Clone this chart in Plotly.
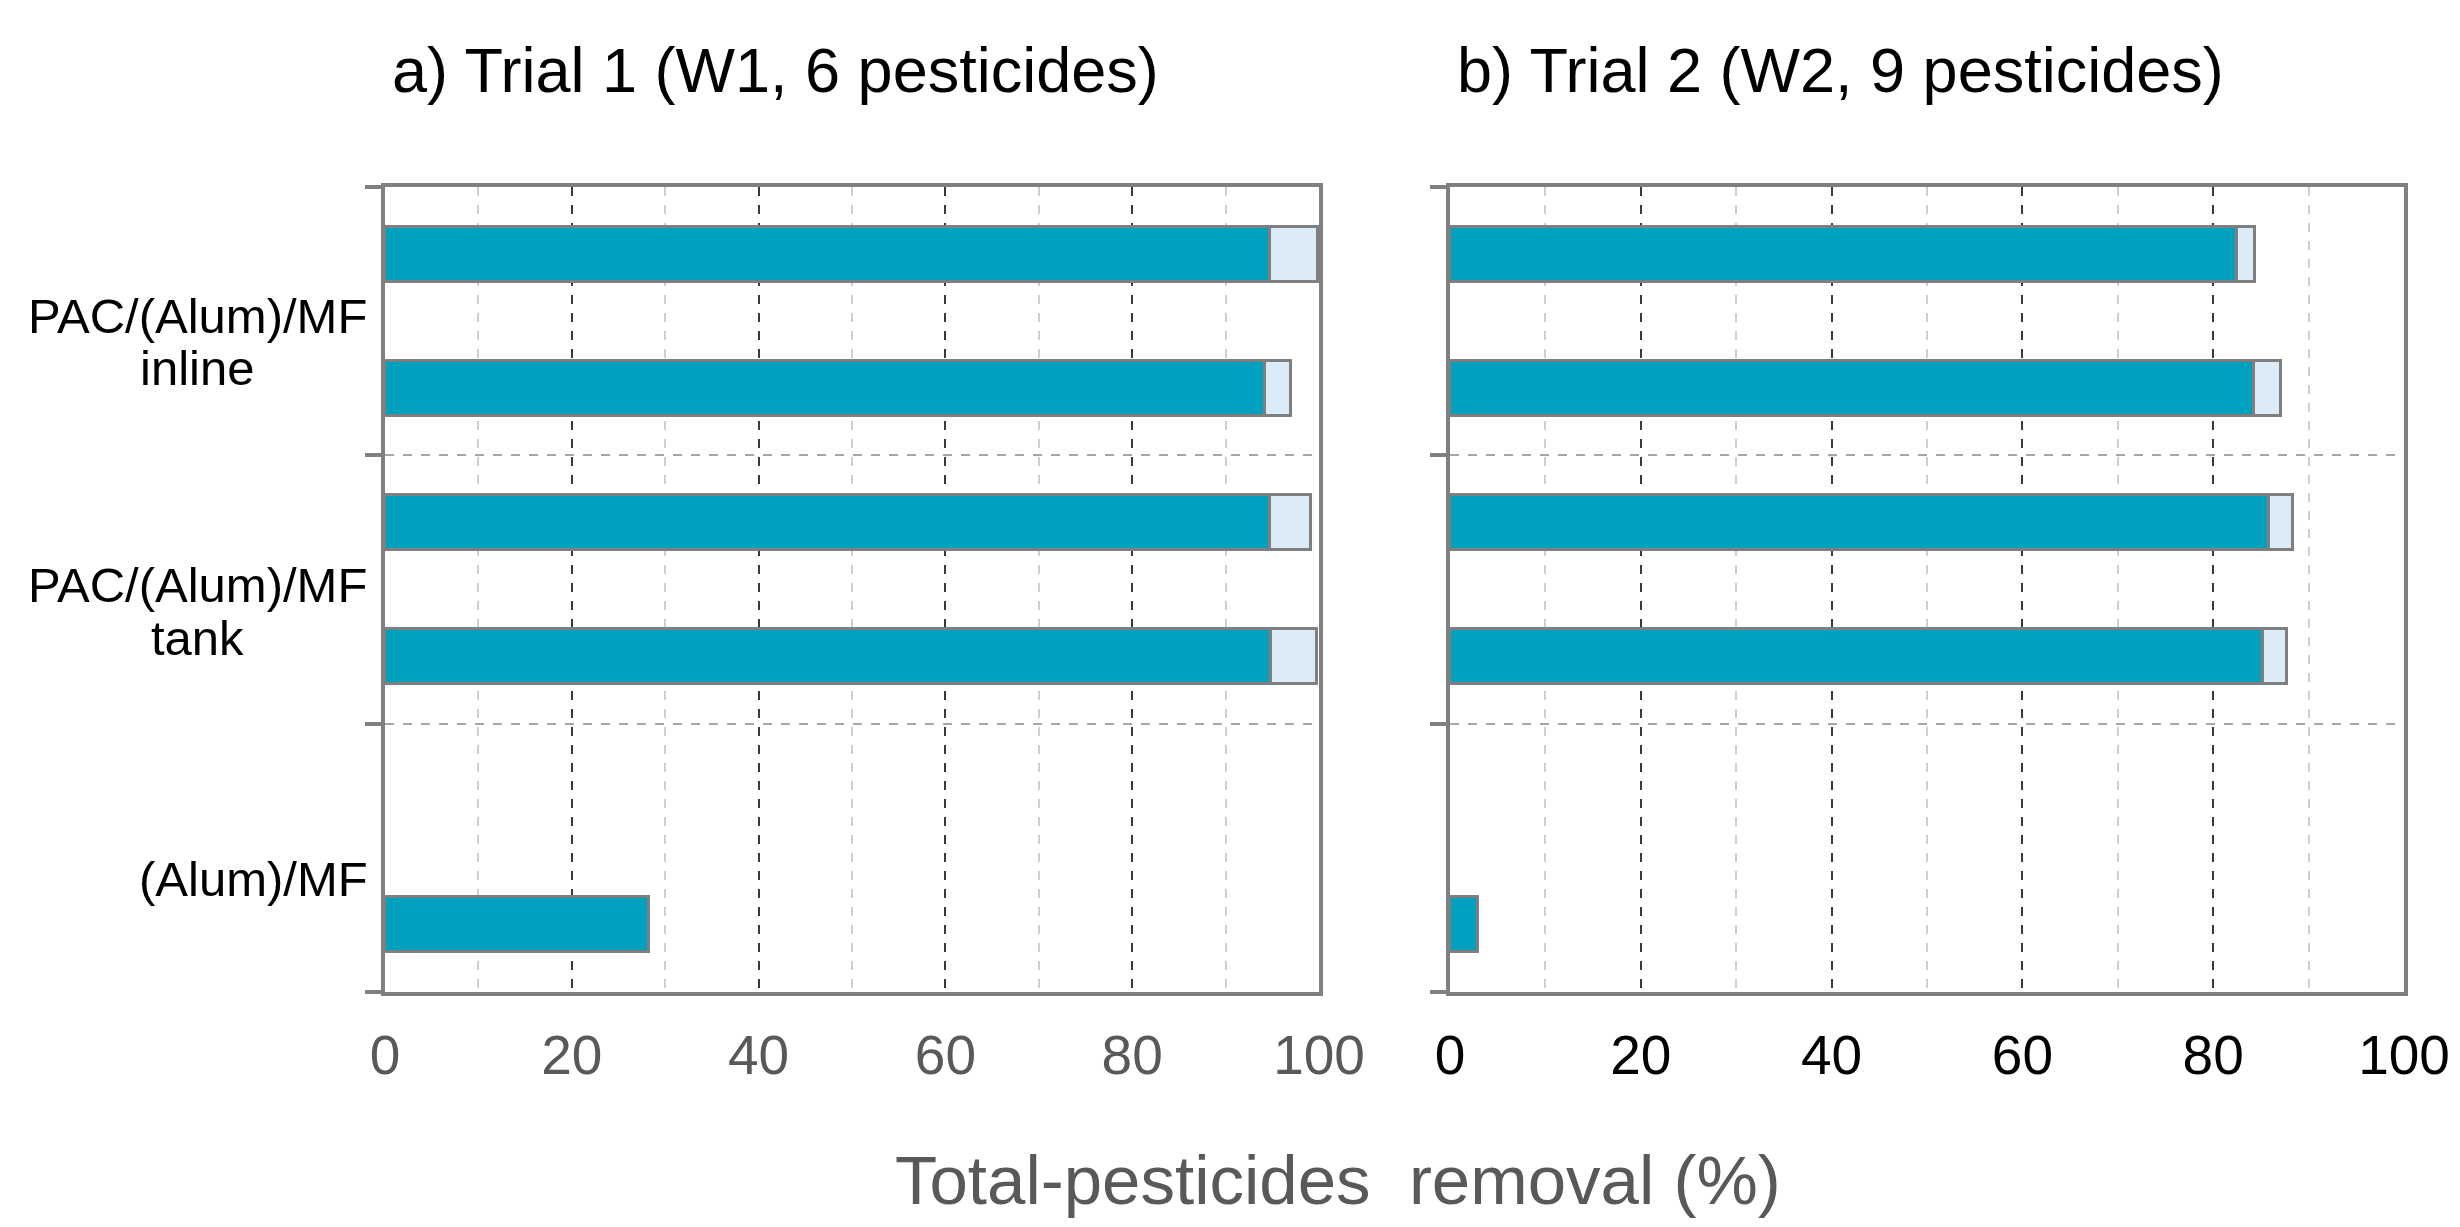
import plotly.graph_objects as go

# ---- data ----
slot_pos = [5, 4, 3, 2, 0]          # bar slots (top to bottom), slot 1 is empty
trial1_main = [94.8, 94.2, 94.7, 94.9, 28.3]
trial1_extra = [5.1, 2.8, 4.4, 4.9, None]
trial2_main = [82.5, 84.3, 85.9, 85.2, 2.9]
trial2_extra = [1.9, 2.8, 2.5, 2.5, None]
group_label_lines = ["PAC/(Alum)/MF", "inline", "PAC/(Alum)/MF", "tank", "(Alum)/MF"]
group_label_pos = [4.54, 4.15, 2.53, 2.14, 0.34]
group_bounds = [-0.5, 1.5, 3.5, 5.5]
x_ticks = [0, 20, 40, 60, 80, 100]
titles = ["a) Trial 1 (W1, 6 pesticides)", "b) Trial 2 (W2, 9 pesticides)"]
x_title = "Total-pesticides\u00a0 removal (%)"

TEAL = "#00A1BF"
LIGHT = "#DCEBF8"
EDGE = "#7F7F7F"
W, H = 2460, 1227

fig = go.Figure()
for i, (main, extra) in enumerate([(trial1_main, trial1_extra), (trial2_main, trial2_extra)]):
    xa = "x" if i == 0 else "x2"
    ya = "y" if i == 0 else "y2"
    fig.add_trace(go.Bar(y=slot_pos, x=main, orientation="h", width=0.41,
                         marker=dict(color=TEAL, line=dict(color=EDGE, width=3)),
                         xaxis=xa, yaxis=ya, showlegend=False))
    fig.add_trace(go.Bar(y=slot_pos, x=extra, orientation="h", width=0.41,
                         marker=dict(color=LIGHT, line=dict(color=EDGE, width=3)),
                         xaxis=xa, yaxis=ya, showlegend=False))

doms = [(377 / W, 1311 / W), (1442 / W, 2396 / W)]
ydom = (1 - 984 / H, 1 - 179 / H)
tick_colors = ["#595959", "#000000"]

for i in range(2):
    sfx = "" if i == 0 else "2"
    fig.update_layout(**{
        "xaxis" + sfx: dict(
            domain=doms[i], range=[0, 100], tickvals=x_ticks,
            anchor="y" + sfx, showline=True, mirror=True, linecolor=EDGE, linewidth=4,
            showgrid=True, gridcolor="#3a3a3a", griddash="dash", gridwidth=1.5,
            minor=dict(dtick=10, showgrid=True, gridcolor="#cfcfcf", griddash="dash", gridwidth=1.5),
            ticks="outside", ticklen=12, tickcolor="rgba(0,0,0,0)",
            tickfont=dict(family="Arial", size=55, color=tick_colors[i]),
            zeroline=False, fixedrange=True, automargin=False,
        ),
        "yaxis" + sfx: dict(
            domain=ydom, range=[-0.5, 5.5], anchor="x" + sfx,
            showline=True, mirror=True, linecolor=EDGE, linewidth=4,
            showgrid=False, zeroline=False, showticklabels=False, ticks="",
            tickvals=group_label_pos,
            minor=dict(tickmode="array", tickvals=group_bounds, ticks="outside", ticklen=16,
                       tickwidth=4, tickcolor=EDGE, showgrid=True, gridcolor="#a6a6a6",
                       griddash="dash", gridwidth=1.5),
            automargin=False,
        ),
    })

ann = []
label_centers = [189, 189, 189, 189, None]
for lab, pos, cx in zip(group_label_lines, group_label_pos, label_centers):
    if cx is None:
        ann.append(dict(text=lab, x=362 / W, xref="paper", y=pos, yref="y", xanchor="right",
                        yanchor="middle", showarrow=False,
                        font=dict(family="Arial", size=49, color="#000000")))
    else:
        ann.append(dict(text=lab, x=cx / W, xref="paper", y=pos, yref="y", xanchor="center",
                        yanchor="middle", showarrow=False,
                        font=dict(family="Arial", size=49, color="#000000")))
for t, px in zip(titles, [382, 1447]):
    ann.append(dict(text=t, x=px / W, xref="paper", y=1 - 62 / H, yref="paper",
                    xanchor="left", yanchor="middle", showarrow=False,
                    font=dict(family="Arial", size=63, color="#000000")))
ann.append(dict(text=x_title, x=1330 / W, xref="paper", y=1 - 1172 / H, yref="paper",
                xanchor="center", yanchor="middle", showarrow=False,
                font=dict(family="Arial", size=69, color="#595959")))

fig.update_layout(width=W, height=H, barmode="stack", bargap=0,
                  margin=dict(l=0, r=0, t=0, b=0), paper_bgcolor="white",
                  plot_bgcolor="white", annotations=ann)

fig.write_html("out.html")
